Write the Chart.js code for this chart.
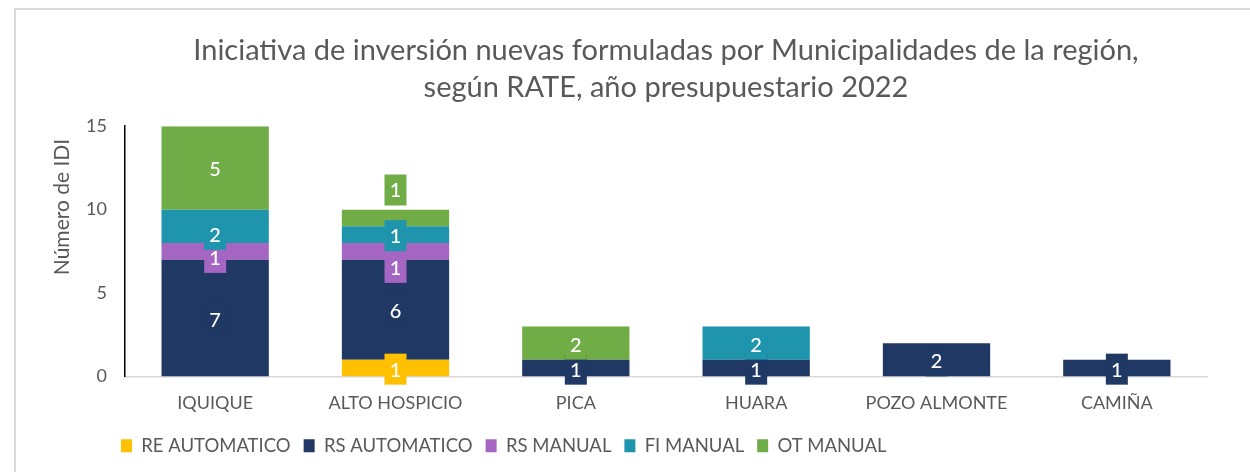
<!DOCTYPE html>
<html><head><meta charset="utf-8">
<script src="https://cdn.jsdelivr.net/npm/chart.js@4"></script>
<style>html,body{margin:0;padding:0;background:#fff}#wrap{width:1250px;height:472px;position:relative}</style>
</head><body><div id="wrap"><canvas id="c" width="1250" height="472"></canvas></div>
<script>
const categories = ['IQUIQUE', 'ALTO HOSPICIO', 'PICA', 'HUARA', 'POZO ALMONTE', 'CAMIÑA'];
const reAutomatico = [0, 1, 0, 0, 0, 0];
const rsAutomatico = [7, 6, 1, 1, 2, 1];
const rsManual = [1, 1, 0, 0, 0, 0];
const fiManual = [2, 1, 0, 2, 0, 0];
const otManual = [5, 1, 2, 0, 0, 0];
const seriesNames = ['RE AUTOMATICO', 'RS AUTOMATICO', 'RS MANUAL', 'FI MANUAL', 'OT MANUAL'];
const yTicks = [0, 5, 10, 15];
const titleLines = ['Iniciativa de inversión nuevas formuladas por Municipalidades de la región,', 'según RATE, año presupuestario 2022'];
const yAxisTitle = 'Número de IDI';

const seriesColors = ['#FFC000', '#203864', '#A566C3', '#1F95AD', '#70AD47'];
const FONT = 'Lato';
const GREY = '#595959';

// label nudges (pixels) mirroring the reference's hand-placed callouts
const labelNudge = { '3-0': 8, '2-0': 6, '4-1': -28, '2-1': 16 };

const framePlugin = {
  id: 'frame',
  beforeDraw(chart) {
    const ctx = chart.ctx;
    ctx.save();
    ctx.fillStyle = '#fff';
    ctx.fillRect(0, 0, chart.width, chart.height);
    ctx.fillStyle = '#d9d9d9';
    ctx.fillRect(14, 8, chart.width - 14, 2);
    ctx.fillRect(14, 8, 2, chart.height - 8);
    ctx.restore();
  },
  afterLayout(chart) {
    const lg = chart.legend;
    if (lg) { lg.left = 108; }
  },
  afterDraw(chart) {
    const ctx = chart.ctx;
    ctx.save();
    ctx.translate(62, 207);
    ctx.rotate(-Math.PI / 2);
    ctx.font = '21px ' + FONT;
    ctx.fillStyle = GREY;
    ctx.textAlign = 'center';
    ctx.textBaseline = 'middle';
    ctx.fillText(yAxisTitle, 0, 0);
    ctx.restore();
  }
};

const calloutPlugin = {
  id: 'callouts',
  afterDatasetsDraw(chart) {
    const ctx = chart.ctx;
    ctx.save();
    ctx.font = '500 20px ' + FONT;
    ctx.textAlign = 'center';
    ctx.textBaseline = 'middle';
    chart.data.datasets.forEach((ds, di) => {
      const meta = chart.getDatasetMeta(di);
      meta.data.forEach((el, i) => {
        const v = ds.data[i];
        if (!v) return;
        const nudge = labelNudge[di + '-' + i] !== undefined ? labelNudge[di + '-' + i] : 1;
        const cy = (el.y + el.base) / 2 + nudge;
        ctx.fillStyle = ds.backgroundColor;
        ctx.fillRect(el.x - 11, cy - 15.5, 22, 31);
        ctx.fillStyle = '#ffffff';
        ctx.fillText(String(v), el.x, cy + 1);
      });
    });
    ctx.restore();
  }
};

const seriesData = [reAutomatico, rsAutomatico, rsManual, fiManual, otManual];

new Chart(document.getElementById('c'), {
  type: 'bar',
  data: {
    labels: categories,
    datasets: seriesNames.map((name, i) => ({
      label: name,
      data: seriesData[i],
      backgroundColor: seriesColors[i],
      borderWidth: 0,
      categoryPercentage: 1,
      barPercentage: 0.595
    }))
  },
  options: {
    responsive: false,
    animation: false,
    layout: { padding: { top: 0, right: 43, bottom: 7, left: 0 } },
    plugins: {
      title: {
        display: true,
        fullSize: false,
        text: titleLines,
        color: GREY,
        font: { family: FONT, size: 29, weight: 'normal', lineHeight: 1.28 },
        padding: { top: 32, bottom: 20 }
      },
      legend: {
        position: 'bottom',
        align: 'start',
        labels: {
          boxWidth: 11,
          boxHeight: 13,
          color: GREY,
          font: { family: FONT, size: 18.5 },
          padding: 13
        }
      },
      tooltip: { enabled: false }
    },
    scales: {
      x: {
        stacked: true,
        grid: { display: false, drawTicks: false },
        border: { display: true, color: '#d9d9d9', width: 1.5 },
        ticks: { color: GREY, font: { family: FONT, size: 18 }, padding: 16 },
        afterFit(s) { s.height = 47; }
      },
      y: {
        stacked: true,
        min: 0,
        max: 15,
        afterBuildTicks(s) { s.ticks = yTicks.map(v => ({ value: v })); },
        grid: { display: false, drawTicks: false },
        border: { display: true, color: '#000000', width: 1.5 },
        ticks: { color: GREY, font: { family: FONT, size: 18 }, padding: 18 },
        afterFit(s) { s.width = 125; }
      }
    }
  },
  plugins: [framePlugin, calloutPlugin]
});
</script>
</body></html>
